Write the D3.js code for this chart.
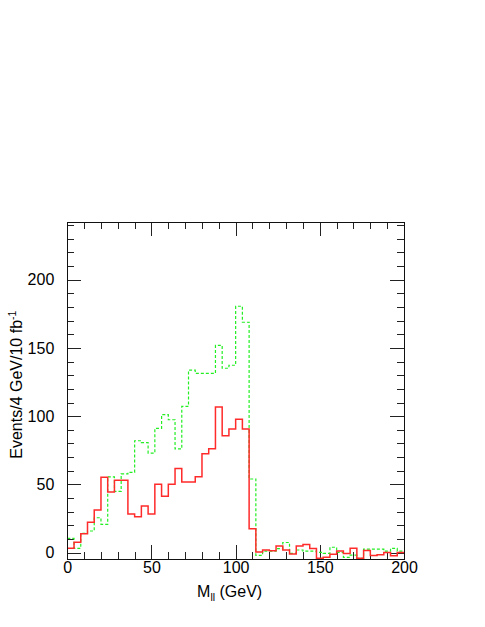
<!DOCTYPE html>
<html>
<head>
<meta charset="utf-8">
<script src="https://cdn.jsdelivr.net/npm/d3@7/dist/d3.min.js"></script>
<style>
  body { margin: 0; background: #fff; }
  text { font-family: "Liberation Sans", Arial, sans-serif; fill: #000; }
</style>
</head>
<body>
<div id="chart"></div>
<script>
// M_ll histogram, 4 GeV bins from 0 to 200 GeV
const binLow = d3.range(0, 200, 4);

// solid red histogram
const redCounts = [
  3.2, 7.6, 13.9, 22.3, 31.3, 55.2, 44.5, 53, 53, 28.4,
  26.4, 34.2, 28.4, 50.1, 41.3, 50.1, 61.6, 51.8, 51.8, 55.7,
  72.5, 76.2, 106.7, 85.7, 90.6, 97.7, 90.6, 17.6, 0.5, 2,
  1.5, 5, 2, -1, 5, 6, 3, -4, -3.4, -1.2,
  1.2, -0.5, 3.2, -4.1, 1.7, -2, -1.5, 0.2, -2.2, 0.2
];

// dashed green histogram
const greenCounts = [
  10.5, 3.2, 14.2, 15.9, 25.6, 20.8, 55.5, 45, 57.7, 58.9,
  82, 80.6, 73, 91.1, 101.1, 97.4, 76, 107.2, 133.8, 131.4,
  131.4, 131.4, 151.9, 135.1, 137.3, 180.5, 168.8, 54, -2, 1.2,
  1.2, 3, 7.5, -0.5, 2, 1.2, 1.2, 0.2, -0.5, 4,
  0.2, -3.4, -1.7, -4.1, 2.7, 2.7, 2.7, 1.2, 3.2, 1.2
];

const xMajor = [0, 50, 100, 150, 200];
const yMajor = [0, 50, 100, 150, 200];

const W = 485, H = 627;
const plotL = 67.3, plotR = 404, plotT = 222.3, plotB = 559;

const svg = d3.select("#chart").append("svg")
  .attr("width", W)
  .attr("height", H);

const x = d3.scaleLinear().domain([0, 200]).range([plotL, plotR]);
const y = d3.scaleLinear().domain([-4.6, 242]).range([plotB, plotT]);

// minor ticks (no labels)
function minor(axis, size) {
  return axis.tickSizeInner(-size).tickSizeOuter(0).tickFormat("");
}

svg.append("g").attr("transform", `translate(0,${plotB})`)
  .call(minor(d3.axisBottom(x).tickValues(d3.range(0, 201, 10)), 7));
svg.append("g").attr("transform", `translate(0,${plotT})`)
  .call(minor(d3.axisTop(x).tickValues(d3.range(0, 201, 10)), 7));
svg.append("g").attr("transform", `translate(${plotL},0)`)
  .call(minor(d3.axisLeft(y).tickValues(d3.range(0, 241, 10)), 7));
svg.append("g").attr("transform", `translate(${plotR},0)`)
  .call(minor(d3.axisRight(y).tickValues(d3.range(0, 241, 10)), 7));

// major ticks
svg.append("g").attr("class", "xaxis").attr("transform", `translate(0,${plotB})`)
  .call(d3.axisBottom(x).tickValues(xMajor).tickSizeInner(-14).tickSizeOuter(0).tickPadding(3));
svg.append("g").attr("transform", `translate(0,${plotT})`)
  .call(d3.axisTop(x).tickValues(xMajor).tickSizeInner(-14).tickSizeOuter(0).tickFormat(""));
svg.append("g").attr("class", "yaxis").attr("transform", `translate(${plotL},0)`)
  .call(d3.axisLeft(y).tickValues(yMajor).tickSizeInner(-14).tickSizeOuter(0).tickPadding(13));
svg.append("g").attr("transform", `translate(${plotR},0)`)
  .call(d3.axisRight(y).tickValues(yMajor).tickSizeInner(-14).tickSizeOuter(0).tickFormat(""));

svg.selectAll(".domain").remove();
svg.selectAll(".tick line").attr("stroke", "#222").attr("shape-rendering", "crispEdges");
svg.selectAll(".tick text")
  .style("font-family", "'Liberation Sans', Arial, sans-serif")
  .style("font-size", "16px");

// histogram outlines
const step = d3.line()
  .x(d => x(d[0]))
  .y(d => y(d[1]))
  .curve(d3.curveStepAfter);

function pts(counts) {
  const p = binLow.map((b, i) => [b, counts[i]]);
  p.push([200, counts[counts.length - 1]]);
  return p;
}

svg.append("path")
  .datum(pts(greenCounts))
  .attr("d", step)
  .attr("fill", "none")
  .attr("stroke", "#22ee22")
  .attr("stroke-width", 1.2)
  .attr("stroke-dasharray", "3,2");

svg.append("path")
  .datum(pts(redCounts))
  .attr("d", step)
  .attr("fill", "none")
  .attr("stroke", "#ff2a2a")
  .attr("stroke-width", 1.5);

// frame
svg.append("rect")
  .attr("x", plotL).attr("y", plotT)
  .attr("width", plotR - plotL).attr("height", plotB - plotT)
  .attr("fill", "none")
  .attr("stroke", "#111")
  .attr("stroke-width", 1)
  .attr("shape-rendering", "crispEdges");

// axis titles
const xt = svg.append("text")
  .attr("x", (plotL + plotR) / 2 - 6)
  .attr("y", 597)
  .attr("text-anchor", "middle")
  .style("font-size", "16px");
xt.append("tspan").text("M");
xt.append("tspan").attr("dy", 4).style("font-size", "10.5px").text("ll");
xt.append("tspan").attr("dy", -4).text(" (GeV)");

const yt = svg.append("text")
  .attr("transform", `translate(22,${(plotT + plotB) / 2 - 6}) rotate(-90)`)
  .attr("text-anchor", "middle")
  .style("font-size", "16px");
yt.append("tspan").text("Events/4 GeV/10 fb");
yt.append("tspan").attr("dy", -6).style("font-size", "10.5px").text("-1");
</script>
</body>
</html>
